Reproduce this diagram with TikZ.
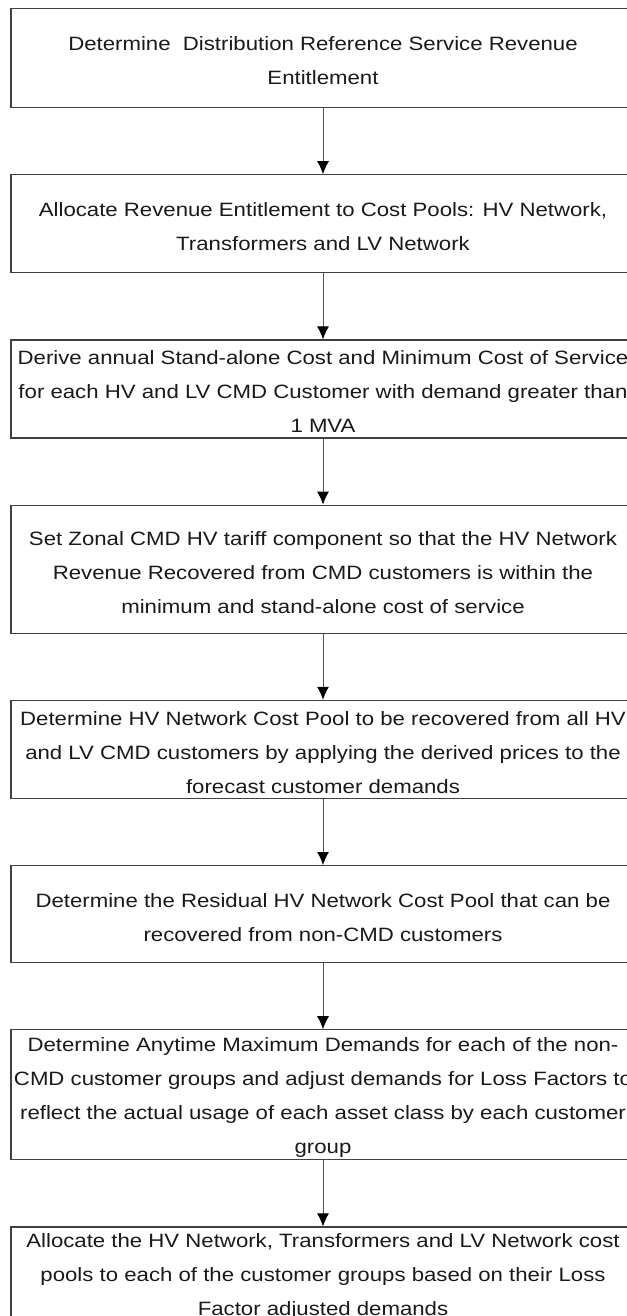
\documentclass[tikz,border=0pt]{standalone}
\usepackage{fontspec}
\setmainfont{Liberation Sans}[FakeStretch=1.15]
\usetikzlibrary{arrows.meta,positioning}
\definecolor{boxline}{HTML}{404040}
\definecolor{flowline}{HTML}{555555}
\newcommand{\stepfont}{\fontsize{19.3pt}{34pt}\selectfont}

\begin{document}
\begin{tikzpicture}[
  stepbox/.style={draw=boxline, line width=1.2pt, minimum width=624pt, minimum height=#1, inner sep=0pt},
  steptext/.style={align=center, font=\stepfont, text=black!90, yshift=-3pt},
  flow/.style={draw=flowline, line width=1pt, -{Latex[length=13pt,width=12pt,color=black]}},
  node distance=66pt
]
\useasboundingbox (0,0) rectangle (626pt,-1316pt);

% boxes
\node[stepbox=99pt, anchor=north] (entitle) at (323pt,-8pt) {};
\node[stepbox=98pt, below=of entitle] (pools) {};
\node[stepbox=98pt, below=of pools] (standalone) {};
\node[stepbox=128pt, below=of standalone] (zonal) {};
\node[stepbox=98pt, below=of zonal] (hvpool) {};
\node[stepbox=97pt, below=of hvpool] (residual) {};
\node[stepbox=130pt, below=of residual] (demands) {};
\node[stepbox=100pt, below=of demands] (allocate) {};

% texts
\node[steptext] (entitletxt) at (entitle) {Determine\ \ Distribution Reference Service Revenue\\Entitlement};
\node[steptext] (poolstxt) at (pools) {Allocate Revenue Entitlement to Cost Pools: HV Network,\\Transformers and LV Network};
\node[steptext] (standalonetxt) at (standalone) {Derive annual Stand-alone Cost and Minimum Cost of Service\\for each HV and LV CMD Customer with demand greater than\\1 MVA};
\node[steptext] (zonaltxt) at (zonal) {Set Zonal CMD HV tariff component so that the HV Network\\Revenue Recovered from CMD customers is within the\\minimum and stand-alone cost of service};
\node[steptext] (hvpooltxt) at (hvpool) {Determine HV Network Cost Pool to be recovered from all HV\\and LV CMD customers by applying the derived prices to the\\forecast customer demands};
\node[steptext] (residualtxt) at (residual) {Determine the Residual HV Network Cost Pool that can be\\recovered from non-CMD customers};
\node[steptext] (demandstxt) at (demands) {Determine Anytime Maximum Demands for each of the non-\\CMD customer groups and adjust demands for Loss Factors to\\reflect the actual usage of each asset class by each customer\\group};
\node[steptext, yshift=4pt] (allocatetxt) at (allocate) {Allocate the HV Network, Transformers and LV Network cost\\pools to each of the customer groups based on their Loss\\Factor adjusted demands};

% connectors
\draw[flow] (entitle) -- (pools);
\draw[flow] (pools) -- (standalone);
\draw[flow] (standalone) -- (zonal);
\draw[flow] (zonal) -- (hvpool);
\draw[flow] (hvpool) -- (residual);
\draw[flow] (residual) -- (demands);
\draw[flow] (demands) -- (allocate);
\end{tikzpicture}
\end{document}
